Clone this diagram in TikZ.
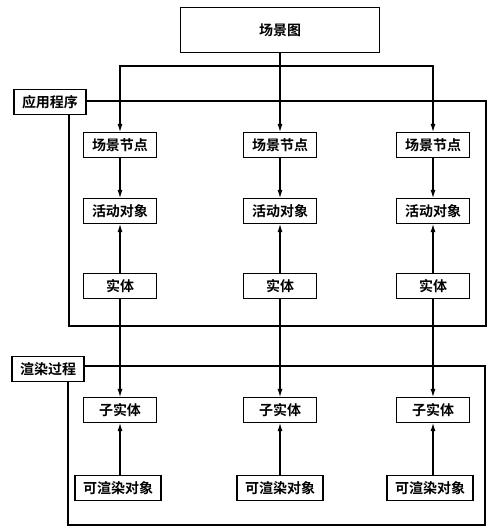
\documentclass[tikz,border=0pt]{standalone}
\usepackage{fontspec}
\setmainfont{Noto Sans CJK SC}[BoldFont={Noto Sans CJK SC Bold}]
\usetikzlibrary{arrows.meta}

\begin{document}
\begin{tikzpicture}[x=1pt, y=-1pt, line width=1.1pt, -{Latex[length=8pt,width=5pt]},
      every node/.append style={draw, fill=white, inner sep=0pt, font=\fontsize{14}{16}\selectfont\bfseries},
      box/.style={minimum width=73pt, minimum height=25pt},
      wide/.style={minimum width=86pt, minimum height=25pt},
      tag/.style={minimum width=72pt, minimum height=25pt}]
    \useasboundingbox (0,0) rectangle (500,531);
    % frames
    \draw[-] (69,101) rectangle (486,326);
    \draw[-] (68,366) rectangle (485,525);
    \node (app) [tag] at (50,102) {应用程序};
    \node (render) [tag] at (48,369) {渲染过程};
    \node (graph) [minimum width=199pt, minimum height=45pt] at (280,30) {场景图};
    % scene nodes
    \node (sn1) [box] at (120,145) {场景节点};
    \node (sn2) [box] at (280,145) {场景节点};
    \node (sn3) [box] at (433,145) {场景节点};
    \node (act1) [box] at (120,211) {活动对象};
    \node (act2) [box] at (280,211) {活动对象};
    \node (act3) [box] at (433,211) {活动对象};
    \node (ent1) [box] at (120,286) {实体};
    \node (ent2) [box] at (280,286) {实体};
    \node (ent3) [box] at (433,286) {实体};
    \node (sub1) [box] at (120,410) {子实体};
    \node (sub2) [box] at (280,410) {子实体};
    \node (sub3) [box] at (433,410) {子实体};
    \node (rend1) [wide] at (118,488) {可渲染对象};
    \node (rend2) [wide] at (280,488) {可渲染对象};
    \node (rend3) [wide] at (430,488) {可渲染对象};
    \coordinate (bus) at (280,66);
    \draw (graph) -- (sn2);
    \draw (bus) -| (sn1);
    \draw (bus) -| (sn3);
    \draw (sn1) -- (act1);  \draw (ent1) -- (act1);  \draw (ent1) -- (sub1);  \draw (rend1.north -| sub1) -- (sub1);
    \draw (sn2) -- (act2);  \draw (ent2) -- (act2);  \draw (ent2) -- (sub2);  \draw (rend2) -- (sub2);
    \draw (sn3) -- (act3);  \draw (ent3) -- (act3);  \draw (ent3) -- (sub3);  \draw (rend3.north -| sub3) -- (sub3);
\end{tikzpicture}
\end{document}
